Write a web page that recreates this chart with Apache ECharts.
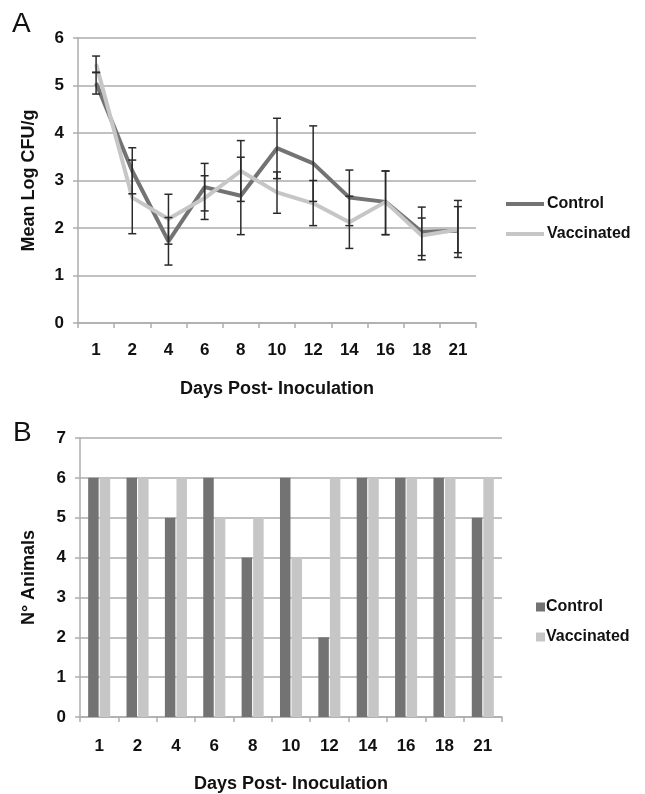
<!DOCTYPE html>
<html>
<head>
<meta charset="utf-8">
<script src="https://cdn.jsdelivr.net/npm/echarts@6/dist/echarts.min.js"></script>
<style>
html,body{margin:0;padding:0;background:#ffffff;}
#chart{width:645px;height:794px;}
</style>
</head>
<body>
<div id="chart"></div>
<script>
// ---- data ----
var categories = ['1','2','4','6','8','10','12','14','16','18','21'];
// Panel A: Mean Log CFU/g
var controlMean = [5.05, 3.20, 1.72, 2.86, 2.68, 3.68, 3.36, 2.64, 2.55, 1.92, 1.94];
var vaccMean    = [5.45, 2.64, 2.19, 2.63, 3.20, 2.75, 2.52, 2.12, 2.55, 1.84, 1.97];
var controlLow  = [4.82, 2.72, 1.22, 2.36, 1.86, 3.04, 2.56, 2.05, 1.86, 1.42, 1.38];
var controlHigh = [5.27, 3.69, 2.22, 3.36, 3.49, 4.31, 4.15, 3.22, 3.20, 2.44, 2.58];
var vaccLow     = [5.28, 1.88, 1.66, 2.18, 2.56, 2.31, 2.05, 1.57, 1.86, 1.33, 1.48];
var vaccHigh    = [5.62, 3.43, 2.71, 3.10, 3.84, 3.18, 3.00, 2.67, 3.20, 2.21, 2.45];
// Panel B: N° Animals
var controlAnimals = [6, 6, 5, 6, 4, 6, 2, 6, 6, 6, 5];
var vaccAnimals    = [6, 6, 6, 5, 5, 4, 6, 6, 6, 6, 6];
var yTicksA = [0, 6, 1];
var yTicksB = [0, 7, 1];

// ---- styles ----
var DARK = '#737373', LIGHT = '#c6c6c6', GRID = '#adadad', ERR = '#2a2a2a';
var FONT = '"Liberation Sans", Arial, sans-serif';

function errData(lo, hi) {
  return lo.map(function (v, i) { return [i, v, hi[i]]; });
}
function errRender(params, api) {
  var i = api.value(0);
  var lo = api.coord([i, api.value(1)]);
  var hi = api.coord([i, api.value(2)]);
  var x = lo[0], hw = 4;
  var st = { stroke: ERR, lineWidth: 1.5 };
  return {
    type: 'group',
    children: [
      { type: 'line', shape: { x1: x, y1: lo[1], x2: x, y2: hi[1] }, style: st },
      { type: 'line', shape: { x1: x - hw, y1: lo[1], x2: x + hw, y2: lo[1] }, style: st },
      { type: 'line', shape: { x1: x - hw, y1: hi[1], x2: x + hw, y2: hi[1] }, style: st }
    ]
  };
}

function xAxisCfg(gridIndex, labelMargin, nameGap) {
  return {
    type: 'category', gridIndex: gridIndex, data: categories, boundaryGap: true,
    name: 'Days Post- Inoculation', nameLocation: 'middle', nameGap: nameGap,
    nameTextStyle: { fontFamily: FONT, fontWeight: 'bold', fontSize: 18, color: '#111' },
    axisLine: { lineStyle: { color: GRID, width: 1.5 } },
    axisTick: { show: true, interval: 0, length: 5, lineStyle: { color: GRID, width: 1.5 } },
    axisLabel: { interval: 0, margin: labelMargin, fontFamily: FONT, fontWeight: 'bold', fontSize: 17, color: '#111' },
    splitLine: { show: false }
  };
}
function yAxisCfg(gridIndex, ticks, name, nameGap) {
  return {
    type: 'value', gridIndex: gridIndex, min: ticks[0], max: ticks[1], interval: ticks[2],
    name: name, nameLocation: 'middle', nameGap: nameGap, nameRotate: 90,
    nameTextStyle: { fontFamily: FONT, fontWeight: 'bold', fontSize: 18, color: '#111' },
    axisLine: { show: true, lineStyle: { color: GRID, width: 1.5 } },
    axisTick: { show: true, length: 5, lineStyle: { color: GRID, width: 1.5 } },
    axisLabel: { margin: 14, fontFamily: FONT, fontWeight: 'bold', fontSize: 17, color: '#111' },
    splitLine: { show: true, lineStyle: { color: GRID, width: 1.5 } }
  };
}

var chart = echarts.init(document.getElementById('chart'), null, { renderer: 'canvas' });
chart.setOption({
  animation: false,
  backgroundColor: '#ffffff',
  textStyle: { fontFamily: FONT },
  graphic: [
    { type: 'text', left: 12, top: 10, style: { text: 'A', font: '28px ' + FONT, fill: '#111' } },
    { type: 'text', left: 13, top: 419, style: { text: 'B', font: '28px ' + FONT, fill: '#111' } }
  ],
  grid: [
    { left: 78, top: 38, width: 398, height: 285 },
    { left: 80, top: 438, width: 422, height: 285 }
  ],
  xAxis: [xAxisCfg(0, 19, 57), xAxisCfg(1, 21, 58)],
  yAxis: [yAxisCfg(0, yTicksA, 'Mean Log CFU/g', 40), yAxisCfg(1, yTicksB, 'N° Animals', 42)],
  legend: [
    {
      orient: 'vertical', left: 501, top: 189, itemWidth: 38, itemHeight: 4, itemGap: 10,
      icon: 'rect', selectedMode: false,
      textStyle: { fontFamily: FONT, fontWeight: 'bold', fontSize: 16, color: '#111', lineHeight: 20, padding: [0, 0, 0, -2] },
      data: [
        { name: 'Control', itemStyle: { color: DARK } },
        { name: 'Vaccinated', itemStyle: { color: LIGHT } }
      ]
    },
    {
      orient: 'vertical', left: 531, top: 592, itemWidth: 9, itemHeight: 9, itemGap: 10,
      icon: 'rect', selectedMode: false,
      textStyle: { fontFamily: FONT, fontWeight: 'bold', fontSize: 16, color: '#111', lineHeight: 20, padding: [0, 0, 0, -4] },
      data: [
        { name: 'Control', itemStyle: { color: DARK } },
        { name: 'Vaccinated', itemStyle: { color: LIGHT } }
      ]
    }
  ],
  series: [
    {
      name: 'Control', type: 'line', xAxisIndex: 0, yAxisIndex: 0, data: controlMean,
      symbol: 'none', lineStyle: { color: DARK, width: 4 }, itemStyle: { color: DARK }, z: 3
    },
    {
      name: 'Vaccinated', type: 'line', xAxisIndex: 0, yAxisIndex: 0, data: vaccMean,
      symbol: 'none', lineStyle: { color: LIGHT, width: 4 }, itemStyle: { color: LIGHT }, z: 4
    },
    {
      name: 'errControl', type: 'custom', xAxisIndex: 0, yAxisIndex: 0,
      data: errData(controlLow, controlHigh), renderItem: errRender, z: 6,
      encode: { x: 0, y: [1, 2] }
    },
    {
      name: 'errVacc', type: 'custom', xAxisIndex: 0, yAxisIndex: 0,
      data: errData(vaccLow, vaccHigh), renderItem: errRender, z: 6,
      encode: { x: 0, y: [1, 2] }
    },
    {
      name: 'Control', type: 'bar', xAxisIndex: 1, yAxisIndex: 1, data: controlAnimals,
      barWidth: 10.5, barGap: '10%', itemStyle: { color: DARK }
    },
    {
      name: 'Vaccinated', type: 'bar', xAxisIndex: 1, yAxisIndex: 1, data: vaccAnimals,
      barWidth: 10.5, barGap: '10%', itemStyle: { color: LIGHT }
    }
  ]
});
</script>
</body>
</html>
